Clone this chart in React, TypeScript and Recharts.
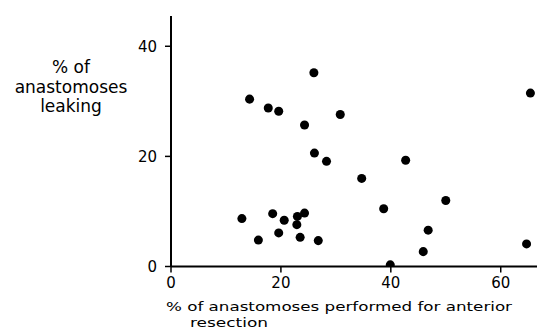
import React from 'react';
import { ScatterChart, Scatter, XAxis, YAxis, ZAxis, Label } from 'recharts';

const xValues = [14.3, 17.7, 19.6, 26.0, 30.8, 24.3, 65.4, 26.1, 28.3, 42.7, 34.7, 50.0, 38.7, 12.9, 18.5, 20.6, 23.0, 24.3, 22.9, 19.6, 15.9, 23.5, 26.8, 46.8, 45.9, 39.9, 64.7];
const yValues = [30.4, 28.8, 28.2, 35.2, 27.6, 25.7, 31.5, 20.6, 19.1, 19.3, 16.0, 12.0, 10.5, 8.7, 9.6, 8.4, 9.1, 9.7, 7.6, 6.1, 4.8, 5.3, 4.7, 6.6, 2.7, 0.3, 4.1];
const xTicks = [0, 20, 40, 60];
const yTicks = [0, 20, 40];
const xTitle = ['% of anastomoses performed  for anterior', 'resection'];
const yTitle = ['% of', 'anastomoses', 'leaking'];

const points = xValues.map((x, i) => ({ x, y: yValues[i] }));
const FONT = '"DejaVu Sans", sans-serif';

const XTitle = (props: any) => {
  const vb = props.viewBox || { x: 0, y: 0 };
  return (
    <g>
      <text x={vb.x - 5} y={vb.y + 40} dominantBaseline="central" fontFamily={FONT} fontSize={13} fill="#000" textLength={346} lengthAdjust="spacingAndGlyphs">{xTitle[0]}</text>
      <text x={vb.x + 19} y={vb.y + 55.5} dominantBaseline="central" fontFamily={FONT} fontSize={13} fill="#000" textLength={78} lengthAdjust="spacingAndGlyphs">{xTitle[1]}</text>
    </g>
  );
};

const YTitle = (props: any) => {
  const vb = props.viewBox || { x: 0, y: 0 };
  const cx = 71;
  const offs = [51, 70.5, 89.5];
  return (
    <g>
      {yTitle.map((t, i) => (
        <text key={i} x={cx} y={vb.y + offs[i]} textAnchor="middle" dominantBaseline="central" fontFamily={FONT} fontSize={17} fill="#000">{t}</text>
      ))}
    </g>
  );
};

export default function App() {
  return (
    <div style={{ position: 'absolute', left: 0, top: 0, width: 538, height: 329, background: '#fff' }}>
      <ScatterChart width={538} height={329} margin={{ top: 16, right: 1, bottom: 0, left: 0 }}>
        <XAxis
          type="number"
          dataKey="x"
          domain={[0, 66.6]}
          ticks={xTicks}
          allowDataOverflow
          height={62.5}
          axisLine={{ stroke: '#000', strokeWidth: 2 }}
          tickLine={{ stroke: '#000', strokeWidth: 1.5 }}
          tickSize={6}
          tickMargin={5}
          tick={{ fill: '#000', fontSize: 15, fontFamily: FONT }}
        >
          <Label content={<XTitle />} />
        </XAxis>
        <YAxis
          type="number"
          dataKey="y"
          domain={[0, 45.5]}
          ticks={yTicks}
          allowDataOverflow
          width={171}
          axisLine={{ stroke: '#000', strokeWidth: 2 }}
          tickLine={{ stroke: '#000', strokeWidth: 1.5 }}
          tickSize={6}
          tickMargin={8}
          tick={{ fill: '#000', fontSize: 15, fontFamily: FONT }}
        >
          <Label content={<YTitle />} />
        </YAxis>
        <ZAxis range={[44, 44]} />
        <Scatter data={points} fill="#000" shape="circle" isAnimationActive={false} />
      </ScatterChart>
    </div>
  );
}
